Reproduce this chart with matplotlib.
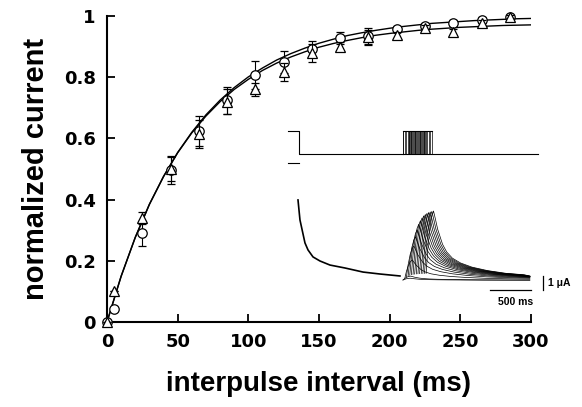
import matplotlib
matplotlib.use("Agg")
import matplotlib.pyplot as plt

plt.rcParams['font.family'] = ['Liberation Sans', 'DejaVu Sans']
plt.rcParams['font.weight'] = 'bold'

# recovery data (interpulse interval in ms, normalized current)
intervals = [0, 5, 25, 45, 65, 85, 105, 125, 145, 165, 185, 205, 225, 245, 265, 285]
circle_vals = [0, 0.042, 0.29, 0.497, 0.624, 0.725, 0.807, 0.85, 0.892, 0.928,
               0.935, 0.957, 0.967, 0.977, 0.987, 0.997]
circle_err = [0, 0, 0.04, 0.045, 0.05, 0.044, 0.045, 0.035, 0.025, 0.02,
              0.025, 0.01, 0.01, 0.01, 0.01, 0.005]
triangle_vals = [0, 0.10, 0.34, 0.50, 0.615, 0.72, 0.76, 0.817, 0.88, 0.90,
                 0.93, 0.938, 0.96, 0.948, 0.977, 0.997]
triangle_err = [0, 0, 0.02, 0.04, 0.045, 0.04, 0.02, 0.03, 0.03, 0.015,
                0.025, 0.01, 0.01, 0.01, 0.01, 0.005]

# fitted curves
fit_t = [0, 10, 20, 30, 40, 50, 60, 70, 80, 90, 100, 110, 120, 130, 140, 150,
         160, 170, 180, 190, 200, 210, 220, 230, 240, 250, 260, 270, 280, 290, 300]
fit_upper = [0, 0.149, 0.276, 0.384, 0.475, 0.554, 0.620, 0.677, 0.725, 0.766,
             0.801, 0.830, 0.856, 0.877, 0.895, 0.911, 0.924, 0.936, 0.945,
             0.953, 0.960, 0.966, 0.971, 0.976, 0.979, 0.982, 0.985, 0.987,
             0.989, 0.991, 0.992]
fit_lower = [0, 0.150, 0.277, 0.385, 0.476, 0.553, 0.618, 0.673, 0.720, 0.760,
             0.793, 0.822, 0.846, 0.866, 0.883, 0.898, 0.910, 0.920, 0.929,
             0.937, 0.943, 0.948, 0.953, 0.957, 0.960, 0.963, 0.965, 0.967,
             0.969, 0.970, 0.971]

# inset: conditioning current (ms, uA)
cond_t = [122, 134, 146, 207, 244, 305, 390, 512, 695, 915, 1122, 1366]
cond_i = [5.86, 5.14, 4.43, 2.79, 2.29, 1.79, 1.5, 1.21, 1.0, 0.71, 0.57, 0.43]
# test-pulse currents: onsets (ms) and peak amplitudes (uA)
test_onsets = [1400, 1405, 1425, 1445, 1465, 1485, 1505, 1525, 1545, 1565,
               1585, 1605, 1625, 1645, 1665, 1685]
test_peaks = [0.15, 0.3, 1.45, 2.45, 3.1, 3.6, 4.0, 4.25, 4.45, 4.6,
              4.7, 4.78, 4.84, 4.88, 4.92, 4.95]
# shape of one test current (time after onset, fraction of peak)
shape_t = [0, 20, 45, 70, 90, 110, 140, 200, 250, 320, 420, 560, 750, 980, 1200]
shape_f = [0.1, 0.45, 0.75, 0.93, 1.0, 0.9, 0.74, 0.52, 0.41, 0.32, 0.25,
           0.19, 0.14, 0.10, 0.08]
trace_end = 2950
base_level = 0.12

# voltage protocol (ms, drawn levels)
v_high = 10.79
v_hold = 9.14
v_mark = 8.5
pulse_len = 70

fig = plt.figure(figsize=(5.82, 4.07), dpi=100)
ax = fig.add_axes([107 / 582, 1 - 322 / 407, 424 / 582, 306 / 407])

ax.plot(fit_t, fit_upper, color='black', lw=1.0, zorder=2)
ax.plot(fit_t, fit_lower, color='black', lw=1.0, zorder=2)
ax.errorbar(intervals, circle_vals, yerr=circle_err, fmt='o', ms=6.8,
            mfc='white', mec='black', mew=0.9, ecolor='black', elinewidth=0.8,
            capsize=3, capthick=0.8, zorder=3, clip_on=False)
ax.errorbar(intervals, triangle_vals, yerr=triangle_err, fmt='^', ms=7,
            mfc='white', mec='black', mew=0.9, ecolor='black', elinewidth=0.8,
            capsize=3, capthick=0.8, zorder=4, clip_on=False)

ax.set_xlim(0, 300)
ax.set_ylim(0, 1)
ax.set_xticks([0, 50, 100, 150, 200, 250, 300])
ax.set_yticks([0, 0.2, 0.4, 0.6, 0.8, 1.0])
ax.set_yticklabels(['0', '0.2', '0.4', '0.6', '0.8', '1'])
ax.spines['top'].set_visible(False)
ax.spines['right'].set_visible(False)
ax.spines['left'].set_linewidth(1.5)
ax.spines['bottom'].set_linewidth(1.5)
ax.tick_params(direction='in', length=6, width=1.3, pad=8)
for lab in ax.get_xticklabels() + ax.get_yticklabels():
    lab.set_fontweight('bold')
    lab.set_fontfamily('DejaVu Sans')
    lab.set_fontsize(13)
ax.set_xlabel('interpulse interval (ms)', fontsize=20, fontweight='bold', labelpad=14)
ax.set_ylabel('normalized current', fontsize=21, fontweight='bold', labelpad=10)

# inset with the raw traces
ins = fig.add_axes([280 / 582, 1 - 300 / 407, 270 / 582, 180 / 407])
ins.set_xlim(-97.6, 3196)
ins.set_ylim(-1.286, 11.57)
ins.set_axis_off()

# protocol
ins.plot([0, 134, 134, test_onsets[0]], [v_high, v_high, v_hold, v_hold],
         color='black', lw=0.8)
ins.plot([0, 134], [v_mark, v_mark], color='black', lw=0.8)
ins.plot([test_onsets[0], 3050], [v_hold, v_hold], color='black', lw=0.8)
ins.plot([test_onsets[0], test_onsets[-1] + pulse_len], [v_high, v_high],
         color='black', lw=0.8)
for on in test_onsets:
    ins.plot([on, on], [v_hold, v_high], color='black', lw=0.5)
    ins.plot([on + pulse_len, on + pulse_len], [v_hold, v_high], color='black', lw=0.5)

# currents
ins.plot(cond_t, cond_i, color='black', lw=1.2)
for on, pk in zip(test_onsets, test_peaks):
    xs = [on + s for s in shape_t if on + s < trace_end]
    ys = [base_level + pk * f for s, f in zip(shape_t, shape_f) if on + s < trace_end]
    xs.append(trace_end)
    ys.append(base_level + pk * 0.06)
    ins.plot(xs, ys, color='black', lw=0.5)

# scale bars
ins.plot([2464, 2965], [-0.57, -0.57], color='black', lw=0.9)
ins.plot([3111, 3111], [-0.57, 0.43], color='black', lw=0.9)
ins.text(3172, -0.07, '1 μA', fontsize=7.5, fontweight='bold', ha='left', va='center')
ins.text(2782, -1.43, '500 ms', fontsize=7.5, fontweight='bold', ha='center', va='center')

fig.savefig('out.png', dpi=100)
